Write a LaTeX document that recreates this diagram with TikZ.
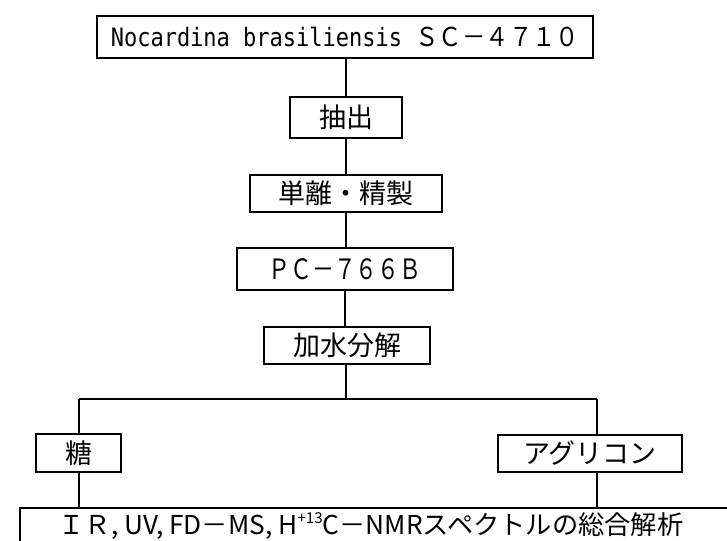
\documentclass[tikz,border=0pt]{standalone}
\usepackage{fontspec}
\newfontfamily\jp{Noto Sans CJK JP}
\newfontfamily\monof{DejaVu Sans Mono}
\begin{document}
\begin{tikzpicture}[x=1pt,y=-1pt,
  stepbox/.style={draw,line width=2pt,inner sep=0pt,anchor=center,font=\jp\fontsize{27}{27}\selectfont},
  conn/.style={line width=1.3pt}]
\useasboundingbox (0,0) rectangle (727,540);
\clip (0,0) rectangle (727,540);
\node[stepbox,minimum width=496pt,minimum height=42pt] (top) at (345,37)
  {\scalebox{1}[1.15]{\monof\fontsize{22}{22}\selectfont Nocardina brasiliensis }\scalebox{0.9}[1]{\jp\fontsize{26}{26}\selectfont ＳＣ－４７１０}};
\node[stepbox,minimum width=112pt,minimum height=41pt] (ext) at (346,117.5) {抽出};
\node[stepbox,minimum width=192pt,minimum height=37pt] (iso) at (346,193.5) {単離・精製};
\node[stepbox,minimum width=216pt,minimum height=42pt] (pc) at (345,269) {\scalebox{0.78}[1]{\fontsize{28}{28}\selectfont ＰＣ－７６６Ｂ}};
\node[stepbox,minimum width=166pt,minimum height=37pt] (hyd) at (347,345.5) {加水分解};
\node[stepbox,minimum width=85pt,minimum height=38pt] (sug) at (78.5,453) {糖};
\node[stepbox,minimum width=184pt,minimum height=37pt] (agl) at (590,453.5) {アグリコン};
\node[inner sep=0pt,anchor=center,font=\jp\fontsize{26}{26}\selectfont] (res) at (371,526)
  {\scalebox{1.01}[1]{ＩＲ, UV, FD－MS, H\raisebox{0.45em}{\fontsize{15}{15}\selectfont +13}C－NMRスペクトルの総合解析}};
\draw[line width=2pt] (20,560) -- (20,508) -- (760,508);
\coordinate (bus) at (346,399);
\coordinate (busL) at (79,399);
\coordinate (busR) at (597,399);
\draw[conn] (top.south -| ext.north) -- (ext.north);
\draw[conn] (ext.south) -- (iso.north);
\draw[conn] (iso.south) -- (iso.south |- pc.north);
\draw[conn] (pc.south) -- (pc.south |- hyd.north);
\draw[conn] (hyd.south -| bus) -- (bus);
\draw[conn] (busL) -- (busR);
\draw[conn] (busL) -- (sug.north -| busL);
\draw[conn] (busR) -- (agl.north -| busR);
\draw[conn] (sug.south -| busL) -- (busL |- 0,508);
\draw[conn] (agl.south -| busR) -- (busR |- 0,508);
\end{tikzpicture}
\end{document}
